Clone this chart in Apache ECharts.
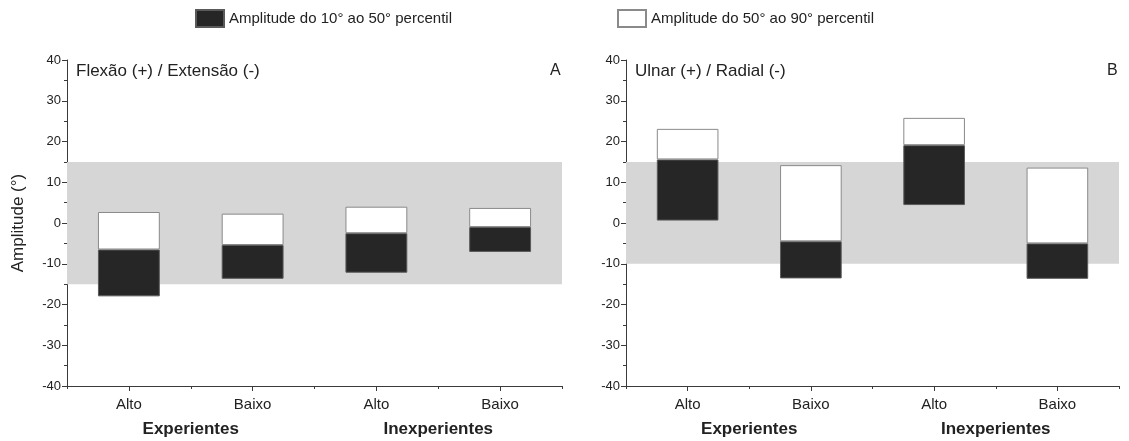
<!DOCTYPE html>
<html>
<head>
<meta charset="utf-8">
<script src="https://cdn.jsdelivr.net/npm/echarts@6/dist/echarts.min.js"></script>
<style>
html,body{margin:0;padding:0;background:#fff;}
#chart{width:1129px;height:441px;}
</style>
</head>
<body>
<div id="chart"></div>
<script>
// ---- data ----
var categories = ['Alto', 'Baixo', 'Alto', 'Baixo'];
var groups = ['Experientes', 'Inexperientes'];
var panelTitles = ['Flexão (+) / Extensão (-)', 'Ulnar (+) / Radial (-)'];
var panelLetters = ['A', 'B'];
var seriesNames = ['Amplitude do 10° ao 50° percentil', 'Amplitude do 50° ao 90° percentil'];
var yAxisName = 'Amplitude (°)';
var yTicks = [-40, -30, -20, -10, 0, 10, 20, 30, 40];

// Panel A: Flexão / Extensão
var p10A = [-18.0, -13.7, -12.2, -7.1];
var p50A = [-6.5, -5.4, -2.5, -1.0];
var p90A = [2.7, 2.3, 4.0, 3.7];
// Panel B: Ulnar / Radial
var p10B = [0.6, -13.6, 4.4, -13.7];
var p50B = [15.6, -4.5, 19.1, -5.0];
var p90B = [23.1, 14.2, 25.8, 13.6];
// grey reference bands [low, high]
var bandA = [-15, 15];
var bandB = [-10, 15];

var p10 = [p10A, p10B], p50 = [p50A, p50B], p90 = [p90A, p90B], bands = [bandA, bandB];

// ---- layout ----
var grids = [
  {left: 67, top: 60, width: 495, height: 326},
  {left: 626, top: 60, width: 493, height: 326}
];
var axisColor = '#3a3a3a';
var textColor = '#222';
var font = '"Liberation Sans", Arial, sans-serif';

var xAxes = [], yAxes = [], series = [], titles = [];
grids.forEach(function (g, i) {
  xAxes.push({
    gridIndex: i, type: 'category', data: categories, position: 'bottom',
    axisLine: {show: true, onZero: false, lineStyle: {color: axisColor, width: 1}},
    axisTick: {show: true, alignWithLabel: true, length: 5, lineStyle: {color: axisColor}},
    axisLabel: {fontSize: 15, color: textColor, margin: 11, fontFamily: font},
    splitLine: {show: false}
  });
  xAxes.push({
    gridIndex: i, type: 'category', data: categories, position: 'bottom',
    axisLine: {show: false, onZero: false},
    axisTick: {show: true, length: 3, lineStyle: {color: axisColor}},
    axisLabel: {show: false}, splitLine: {show: false}
  });
  xAxes.push({
    gridIndex: i, type: 'category', data: groups, position: 'bottom',
    axisLine: {show: false, onZero: false}, axisTick: {show: false},
    axisLabel: {fontSize: 17, fontWeight: 'bold', color: textColor, margin: 35, fontFamily: font},
    splitLine: {show: false}
  });
  yAxes.push({
    gridIndex: i, type: 'value', min: yTicks[0], max: yTicks[yTicks.length - 1], interval: 10,
    name: i === 0 ? yAxisName : '', nameLocation: 'middle', nameGap: 40,
    nameTextStyle: {fontSize: 17, color: textColor, fontFamily: font},
    axisLine: {show: true, lineStyle: {color: axisColor, width: 1}},
    axisTick: {show: true, length: 5, lineStyle: {color: axisColor}},
    minorTick: {show: true, splitNumber: 2, length: 3, lineStyle: {color: axisColor}},
    axisLabel: {fontSize: 13, color: textColor, margin: 6, fontFamily: font},
    splitLine: {show: false}
  });
  var base = p10[i], mid = p50[i], top = p90[i];
  var xi = i * 3;
  series.push({
    type: 'bar', name: 'base' + i, xAxisIndex: xi, yAxisIndex: i, stack: 'st' + i, stackStrategy: 'all',
    barWidth: '50%', silent: true,
    itemStyle: {color: 'rgba(0,0,0,0)'},
    data: base.slice(),
    markArea: {
      silent: true,
      itemStyle: {color: '#d6d6d6'},
      data: [[{yAxis: bands[i][0]}, {yAxis: bands[i][1]}]]
    },
    z: 2
  });
  series.push({
    type: 'bar', name: seriesNames[0], xAxisIndex: xi, yAxisIndex: i, stack: 'st' + i, stackStrategy: 'all',
    barWidth: '50%',
    itemStyle: {color: '#262626', borderColor: '#5a5a5a', borderWidth: 1},
    data: mid.map(function (v, k) { return v - base[k]; }),
    z: 3
  });
  series.push({
    type: 'bar', name: seriesNames[1], xAxisIndex: xi, yAxisIndex: i, stack: 'st' + i, stackStrategy: 'all',
    barWidth: '50%',
    itemStyle: {color: '#ffffff', borderColor: '#8a8a8a', borderWidth: 1},
    data: top.map(function (v, k) { return v - mid[k]; }),
    z: 3
  });
  titles.push({
    text: panelTitles[i], left: g.left + 4, top: 58,
    textStyle: {fontSize: 17, fontWeight: 'normal', color: textColor, fontFamily: font}
  });
  titles.push({
    text: panelLetters[i], left: g.left + g.width - 17, top: 58,
    textStyle: {fontSize: 16, fontWeight: 'normal', color: textColor, fontFamily: font}
  });
});

var chart = echarts.init(document.getElementById('chart'), null, {renderer: 'canvas'});
chart.setOption({
  backgroundColor: '#ffffff',
  animation: false,
  textStyle: {fontFamily: font},
  title: titles,
  legend: [
    {left: 190, top: 4, itemWidth: 28, itemHeight: 17, icon: 'rect', selectedMode: false,
     data: [seriesNames[0]], textStyle: {fontSize: 15, color: textColor, fontFamily: font}},
    {left: 612, top: 4, itemWidth: 28, itemHeight: 17, icon: 'rect', selectedMode: false,
     data: [seriesNames[1]], textStyle: {fontSize: 15, color: textColor, fontFamily: font}}
  ],
  grid: grids,
  xAxis: xAxes,
  yAxis: yAxes,
  series: series
});
</script>
</body>
</html>
